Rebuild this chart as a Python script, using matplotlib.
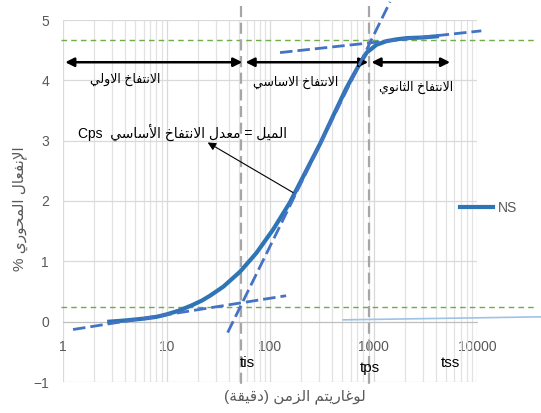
import re
import matplotlib
matplotlib.use("Agg")
import matplotlib.pyplot as plt
from matplotlib.ticker import NullLocator, FixedLocator, FuncFormatter

plt.rcParams['font.family'] = ['Liberation Sans', 'DejaVu Sans']

# NS curve: strain (%) against time (min)
t_ns = [2.8, 4, 6, 8, 10, 13, 17.5, 22, 26.3, 35.4, 51.5, 74, 107.5, 155,
        210, 305, 410, 550, 740, 860, 1070, 1340, 1680, 2100, 3000, 4100]
strain_ns = [0.0, 0.02, 0.05, 0.08, 0.12, 0.18, 0.27, 0.35, 0.43, 0.58, 0.83,
             1.14, 1.53, 1.97, 2.41, 2.95, 3.42, 3.88, 4.28, 4.46, 4.59, 4.65,
             4.68, 4.70, 4.71, 4.73]

# construction lines (end points, time / strain)
tan_low = ([1.25, 143], [-0.13, 0.43])
tan_mid = ([39, 1445], [-0.18, 5.3])
tan_top = ([125, 11000], [4.46, 4.82])
green_levels = [4.67, 0.25]
t_is, t_ps, t_ss = 52, 900, 5500
arrow_y = 4.3
arrow_spans = [(1.05, 54), (58, 890), (956, 5500)]

# Arabic shaping: isolated, final, initial, medial
FORMS = {
    'ا': ('\uFE8D', '\uFE8E', None, None),
    'أ': ('\uFE83', '\uFE84', None, None),
    'إ': ('\uFE87', '\uFE88', None, None),
    'د': ('\uFEA9', '\uFEAA', None, None),
    'ر': ('\uFEAD', '\uFEAE', None, None),
    'ز': ('\uFEAF', '\uFEB0', None, None),
    'و': ('\uFEED', '\uFEEE', None, None),
    'ة': ('\uFE93', '\uFE94', None, None),
    'ت': ('\uFE95', '\uFE96', '\uFE97', '\uFE98'),
    'ث': ('\uFE99', '\uFE9A', '\uFE9B', '\uFE9C'),
    'ح': ('\uFEA1', '\uFEA2', '\uFEA3', '\uFEA4'),
    'خ': ('\uFEA5', '\uFEA6', '\uFEA7', '\uFEA8'),
    'س': ('\uFEB1', '\uFEB2', '\uFEB3', '\uFEB4'),
    'ع': ('\uFEC9', '\uFECA', '\uFECB', '\uFECC'),
    'غ': ('\uFECD', '\uFECE', '\uFECF', '\uFED0'),
    'ف': ('\uFED1', '\uFED2', '\uFED3', '\uFED4'),
    'ق': ('\uFED5', '\uFED6', '\uFED7', '\uFED8'),
    'ل': ('\uFEDD', '\uFEDE', '\uFEDF', '\uFEE0'),
    'م': ('\uFEE1', '\uFEE2', '\uFEE3', '\uFEE4'),
    'ن': ('\uFEE5', '\uFEE6', '\uFEE7', '\uFEE8'),
    'ي': ('\uFEF1', '\uFEF2', '\uFEF3', '\uFEF4'),
}
LAMALEF = {'ا': ('\uFEFB', '\uFEFC'), 'أ': ('\uFEF7', '\uFEF8'),
           'إ': ('\uFEF9', '\uFEFA')}
MIRROR = {'(': ')', ')': '('}


def shape(s):
    out = []
    i = 0
    while i < len(s):
        c = s[i]
        if c not in FORMS:
            out.append(c)
            i += 1
            continue
        prev = s[i - 1] if i > 0 else ''
        joins_prev = prev in FORMS and FORMS[prev][2] is not None
        if c == 'ل' and i + 1 < len(s) and s[i + 1] in LAMALEF:
            iso, fin = LAMALEF[s[i + 1]]
            out.append(fin if joins_prev else iso)
            i += 2
            continue
        nxt = s[i + 1] if i + 1 < len(s) else ''
        joins_next = FORMS[c][2] is not None and nxt in FORMS
        iso, fin, ini, med = FORMS[c]
        if joins_prev and joins_next:
            out.append(med)
        elif joins_prev:
            out.append(fin)
        elif joins_next:
            out.append(ini)
        else:
            out.append(iso)
        i += 1
    return ''.join(out)


def ar(s):
    runs = re.findall(r'[A-Za-z0-9]+|.', shape(s))
    return ''.join(MIRROR.get(r, r) for r in reversed(runs))


fig = plt.figure(figsize=(5.41, 4.13), dpi=100)
ax = fig.add_axes([63/541, 1 - 382/413, (477 - 63)/541, (382 - 20)/413])
ax.set_xscale('log')
ax.set_xlim(1, 10000)
ax.set_ylim(-1, 5)

ax.xaxis.set_major_locator(FixedLocator([1, 10, 100, 1000, 10000]))
ax.xaxis.set_major_formatter(FuncFormatter(lambda v, p: f'{v:g}'))
ax.yaxis.set_minor_locator(NullLocator())
ax.set_yticks(range(-1, 6))
ax.grid(which='major', color='#D9D9D9', lw=0.9)
ax.grid(which='minor', axis='x', color='#E2E2E2', lw=0.9)
ax.set_axisbelow(True)
for side in ['top', 'right', 'left']:
    ax.spines[side].set_visible(False)
ax.spines['bottom'].set_position(('data', 0))
ax.spines['bottom'].set_color('#BFBFBF')
ax.tick_params(which='both', length=0, labelcolor='#595959', labelsize=10)
ax.tick_params(axis='x', pad=13)
ax.tick_params(axis='y', pad=10)

# helper lines
for lvl in green_levels:
    ax.plot([0.95, 38000], [lvl, lvl], color='#70AD47', lw=1, dashes=(4, 3),
            clip_on=False, zorder=2)
for tv in [t_is, t_ps]:
    ax.plot([tv, tv], [5.23, -1.1], color='#A6A6A6', lw=1.6, dashes=(5, 2.5),
            clip_on=False, zorder=2)
ax.plot([510, 41500], [0.03, 0.08], color='#9DC3E6', lw=1.2, clip_on=False)

ax.plot(t_ns, strain_ns, color='#2E75B6', lw=3, label='NS', zorder=3)
for xs, ys in [tan_low, tan_mid, tan_top]:
    ax.plot(xs, ys, color='#4472C4', lw=2, dashes=(4.5, 1.8), clip_on=False,
            zorder=4)

for a, b in arrow_spans:
    ax.annotate('', xy=(b, arrow_y), xytext=(a, arrow_y),
                arrowprops=dict(arrowstyle='<|-|>', color='black', lw=1.8,
                                mutation_scale=13, shrinkA=0, shrinkB=0))

ax.text(3.97, 4.01, ar('الانتفاخ الاولي'), ha='center', va='center', fontsize=9)
ax.text(178, 3.96, ar('الانتفاخ الاساسي'), ha='center', va='center', fontsize=9)
ax.text(2570, 3.88, ar('الانتفاخ الثانوي'), ha='center', va='center', fontsize=9)

# slope label with a pointer from the curve
ax.text(14.4, 3.13, ar('الميل = معدل الانتفاخ الأساسي  Cps'), ha='center',
        va='center', fontsize=10)
ax.annotate('', xy=(25, 2.97), xytext=(167, 2.14),
            arrowprops=dict(arrowstyle='-|>', color='black', lw=0.8,
                            mutation_scale=12, shrinkA=0, shrinkB=0))

ax.text(60, -0.68, 'tis', ha='center', va='center', fontsize=11)
ax.text(923, -0.76, 'tps', ha='center', va='center', fontsize=11)
ax.text(t_ss, -0.68, 'tss', ha='center', va='center', fontsize=11)

ax.set_xlabel(ar('لوغاريتم الزمن (دقيقة)'), fontsize=11, color='#595959')
ax.xaxis.set_label_coords(0.56, -0.02)
ax.set_ylabel(ar('الإنفعال المحوري %'), fontsize=11, color='#595959')
ax.yaxis.set_label_coords(-0.085, 0.48)

ax.legend(loc='center left', bbox_to_anchor=(460/541, 1 - 208/413),
          bbox_transform=fig.transFigure, frameon=False, borderpad=0,
          borderaxespad=0, handlelength=2.4, handletextpad=0.3,
          labelcolor='#595959', fontsize=10)

fig.savefig('out.png', dpi=100)
